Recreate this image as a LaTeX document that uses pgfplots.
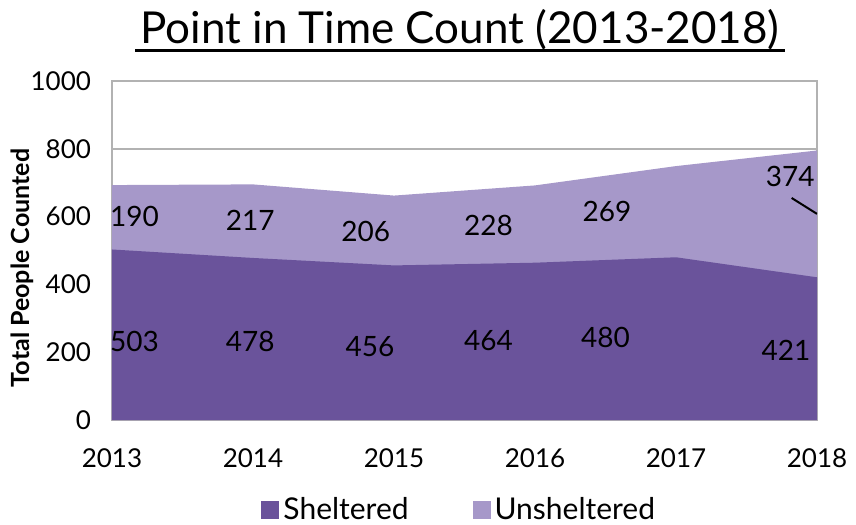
\documentclass[border=0pt]{standalone}
\usepackage{pgfplots}
\pgfplotsset{compat=1.18}
\usepackage{fontspec}
\setmainfont{Lato}
\definecolor{shel}{RGB}{106,83,155}
\definecolor{unshel}{RGB}{166,152,201}
\tikzset{dlab/.style={font=\fontsize{14bp}{16bp}\selectfont, text=black}}
\begin{document}
\begin{tikzpicture}
\path[use as bounding box] (-56bp,-52.5bp) rectangle (372bp,210bp);
\begin{axis}[
  at={(0,0)}, anchor=south west,
  scale only axis, width=352.5bp, height=169.5bp,
  xmin=2013, xmax=2018, ymin=0, ymax=1000,
  xtick={2013,2014,2015,2016,2017,2018},
  ytick={0,200,400,600,800,1000},
  /pgf/number format/1000 sep={},
  xticklabel style={font=\fontsize{13bp}{15bp}\selectfont, yshift=-11bp},
  yticklabel style={font=\fontsize{13bp}{15bp}\selectfont, xshift=-7bp},
  /pgf/number format/assume math mode=true,
  axis line style={gray!60, line width=0.8bp},
  ymajorgrids, grid style={gray!60, line width=0.8bp},
  tick style={draw=none},
  legend style={draw=none, at={(0.494,-0.265)}, anchor=center, legend columns=2,
    font=\fontsize{15bp}{17bp}\selectfont,
    /tikz/every even column/.append style={column sep=30bp}},
  legend image code/.code={\fill[#1] (0bp,-4.5bp) rectangle (9bp,4.5bp);},
]
% Unsheltered stacked on top: totals = sheltered + unsheltered
\addplot[fill=unshel, draw=none, forget plot] coordinates {(2013,693) (2014,695) (2015,662) (2016,692) (2017,749) (2018,795)} \closedcycle;
\addplot[fill=shel, draw=none] coordinates {(2013,503) (2014,478) (2015,456) (2016,464) (2017,480) (2018,421)} \closedcycle;
\addlegendentry{Sheltered}
\addlegendimage{fill=unshel, draw=none}
\addlegendentry{Unsheltered}
\node[dlab] at (axis cs:2013.16,599) {190};
\node[dlab] at (axis cs:2013.98,590) {217};
\node[dlab] at (axis cs:2014.80,555) {206};
\node[dlab] at (axis cs:2015.67,575) {228};
\node[dlab] at (axis cs:2016.51,614) {269};
\node[dlab] at (axis cs:2017.81,717) {374};
\node[dlab] at (axis cs:2013.16,233) {503};
\node[dlab] at (axis cs:2013.98,233) {478};
\node[dlab] at (axis cs:2014.83,218) {456};
\node[dlab] at (axis cs:2015.67,233) {464};
\node[dlab] at (axis cs:2016.50,242) {480};
\node[dlab] at (axis cs:2017.78,206) {421};
\draw[black, line width=1bp] (axis cs:2017.82,655) -- (axis cs:2018,608);
\end{axis}
\node[rotate=90, font=\bfseries\fontsize{12.5bp}{14bp}\selectfont] at (-45bp,76bp) {Total People Counted};
\node[anchor=base, font=\fontsize{22bp}{26bp}\selectfont] at (174bp,188bp) {Point in Time Count (2013-2018)};
\draw[black, line width=1.5bp] (11.5bp,184.5bp) -- (336.5bp,184.5bp);
\end{tikzpicture}
\end{document}
